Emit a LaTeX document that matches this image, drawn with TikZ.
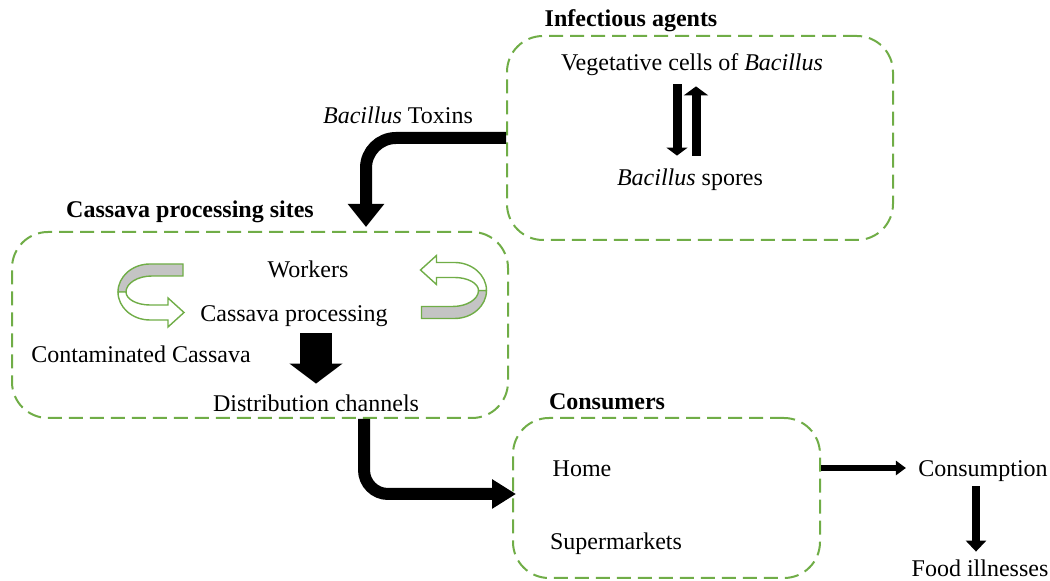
\documentclass[tikz,border=0pt]{standalone}
\usepackage{fontspec}
\setmainfont{Liberation Serif}
\usetikzlibrary{calc}
\usetikzlibrary{arrows.meta}

\definecolor{boxgreen}{RGB}{112,173,71}
\definecolor{bandgray}{RGB}{196,196,196}

% circular ribbon arrow, centred on the origin
\newcommand\ringarrow{%
  \filldraw[fill=bandgray,draw=boxgreen,line width=0.7pt] (33,-28) -- (0,-28) arc[start angle=270,end angle=180,x radius=32,y radius=28] -- (-24,0) arc[start angle=180,end angle=270,x radius=26,y radius=16] -- (33,-16) -- cycle;
  \filldraw[fill=white,draw=boxgreen,line width=0.7pt] (-32,0) arc[start angle=180,end angle=90,x radius=32,y radius=28] -- (18,28) -- (18,35) -- (34,20.5) -- (18,6) -- (18,13) -- (0,13) arc[start angle=90,end angle=180,x radius=24,y radius=13] -- cycle;
}

\begin{document}
\begin{tikzpicture}[x=0.5pt,y=-0.5pt,
  lbl/.style={font=\fontsize{12pt}{14pt}\selectfont,text height=8.5pt,text depth=2.5pt,inner sep=4pt},
  title/.style={lbl,font=\fontsize{12pt}{14pt}\selectfont\bfseries},
  zone/.style={draw=boxgreen,line width=1pt,dash pattern=on 7pt off 3.5pt,rounded corners=18pt},
  bigarrow/.style={line width=6pt,-{Triangle[length=11.5pt,width=17.5pt]}}]
  % Boundary
  \useasboundingbox (0,0) rectangle (1050,581);
  % Boxes
  \node[zone,minimum width=193pt,minimum height=102pt] (infect) at (700,138) {};
  \node[zone,minimum width=248pt,minimum height=93pt] (cassava) at (260,325) {};
  \node[zone,minimum width=153.5pt,minimum height=80pt] (consumers) at (666.5,498) {};
  % Titles
  \node[title] (infect title) at (631,21) {Infectious agents};
  \node[title] (cassava title) at (190,212) {Cassava processing sites};
  \node[title] (consumers title) at (607,404) {Consumers};
  % Texts
  \node[lbl] (veg) at (692,65) {Vegetative cells of \textit{Bacillus}};
  \node[lbl] (spores) at (690,180) {\textit{Bacillus} spores};
  \node[lbl] (toxins) at (398,118) {\textit{Bacillus} Toxins};
  \node[lbl] (workers) at (308,272) {Workers};
  \node[lbl] (process) at (294,316) {Cassava processing};
  \node[lbl] (contam) at (141,357) {Contaminated Cassava};
  \node[lbl] (dist) at (316,406) {Distribution channels};
  \node[lbl] (home) at (582,471) {Home};
  \node[lbl] (market) at (616,544) {Supermarkets};
  \node[lbl] (consumption) at (983,471) {Consumption};
  \node[lbl] (food) at (980,571) {Food illnesses};
  % Spores <-> cells
  \draw[line width=4.5pt,-{Triangle[length=4pt,width=10.5pt]}] ([xshift=-7.5pt]veg.south) -- ([xshift=-7.5pt,yshift=2.5pt]veg.south |- spores.north);
  \draw[line width=4.5pt,-{Triangle[length=4.5pt,width=12pt]}] ([xshift=3pt,yshift=2.5pt]spores.north) -- ([xshift=3pt,yshift=-1pt]spores.north |- veg.south);
  % Toxins into the sites
  \draw[bigarrow,rounded corners=15pt] (infect.west) -| ([xshift=53pt,yshift=2pt]cassava.north);
  % Sites to consumers
  \draw[line width=6pt,-{Triangle[length=12pt,width=14pt]},rounded corners=12pt] ([xshift=52pt]cassava.south) |- ([xshift=2pt,yshift=2pt]consumers.west);
  % Worker cycle
  \begin{scope}[shift={(150,292)}]
    \ringarrow
  \end{scope}
  \begin{scope}[shift={(454.5,290.5)},rotate=180]
    \ringarrow
  \end{scope}
  \draw[line width=16pt,-{Triangle[length=10pt,width=26pt]}] ([yshift=1pt]process.south -| dist.north) -- ([yshift=1.5pt]dist.north);
  % Consumption
  \draw[line width=2.8pt,-{Triangle[length=5pt,width=7pt]}] ([yshift=1.5pt]consumers.east |- consumption.west) -- ([xshift=-2pt,yshift=1.5pt]consumption.west);
  \draw[line width=4pt,-{Triangle[length=5.5pt,width=10pt]}] ([xshift=-3.5pt,yshift=2pt]consumption.south) -- ([xshift=-3.5pt]consumption.south |- food.north);
\end{tikzpicture}
\end{document}
